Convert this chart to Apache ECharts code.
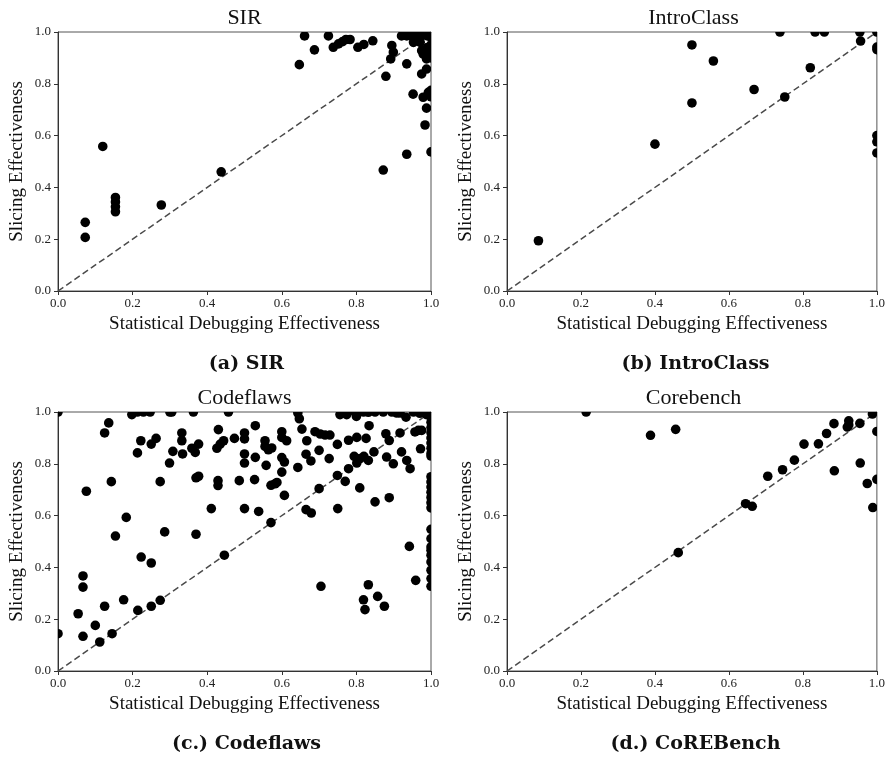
<!DOCTYPE html>
<html>
<head>
<meta charset="utf-8">
<script src="https://cdn.jsdelivr.net/npm/echarts@6/dist/echarts.min.js"></script>
<style>
html,body{margin:0;padding:0;background:#fff;}
#c{width:888px;height:761px;}
</style>
</head>
<body>
<div id="c"></div>
<script>
// ---------- data ----------
const panelTitles = ['SIR', 'IntroClass', 'Codeflaws', 'Corebench'];
const panelCaptions = ['(a) SIR', '(b) IntroClass', '(c.) Codeflaws', '(d.) CoREBench'];
const xAxisName = 'Statistical Debugging Effectiveness';
const yAxisName = 'Slicing Effectiveness';
const tickValues = [0, 0.2, 0.4, 0.6, 0.8, 1.0];
const tickLabels = ['0.0', '0.2', '0.4', '0.6', '0.8', '1.0'];
const diagX = [0, 1];
const diagY = [0, 1];

const sirX = [0.073,0.073,0.12,0.154,0.154,0.154,0.154,0.277,0.4375,0.647,0.661,0.6875,0.725,0.738,0.752,0.763,0.772,0.783,0.804,0.82,0.844,0.872,0.879,0.892,0.895,0.899,0.921,0.935,0.948,0.962,0.975,0.935,0.935,0.953,0.952,0.971,0.975,0.979,0.975,0.988,0.988,0.979,0.993,0.988,0.984,1.0,1.0,1.0,1.0,1.0,1.0,1.0,0.99,0.99];
const sirY = [0.265,0.207,0.558,0.361,0.344,0.325,0.306,0.332,0.46,0.874,0.985,0.931,0.985,0.941,0.954,0.963,0.971,0.971,0.941,0.952,0.966,0.467,0.829,0.896,0.948,0.922,0.985,0.985,0.985,0.985,0.985,0.877,0.528,0.96,0.76,0.96,0.928,0.915,0.838,0.896,0.857,0.748,0.767,0.706,0.641,0.537,0.98,0.95,0.92,0.9,0.775,0.75,0.94,0.985];

const introX = [0.085,0.40,0.50,0.50,0.558,0.668,0.738,0.751,0.82,0.833,0.858,0.954,0.956,1.0,1.0,1.0,1.0,1.0,1.0];
const introY = [0.194,0.567,0.95,0.726,0.888,0.778,1.0,0.749,0.862,1.0,1.0,1.0,0.965,1.0,0.942,0.932,0.6,0.576,0.533];

const codeX = [
  0.0,0.198,0.213,0.229,0.247,0.30,0.305,0.363,0.457,0.643,0.647,0.756,0.774,0.796,0.80,0.819,0.832,0.85,0.872,0.895,0.908,0.917,0.933,0.953,0.97,0.988,
  0.136,0.125,0.222,0.213,0.263,0.25,0.332,0.332,0.308,0.299,0.334,0.359,0.368,0.377,0.43,0.426,0.435,0.444,0.473,0.5,0.5,0.5,0.5,0.529,0.529,0.555,0.555,0.564,0.573,0.558,0.6,0.6,0.613,0.6,0.607,0.6,0.654,0.667,0.643,0.665,0.678,0.689,0.703,0.716,0.729,0.7,0.727,0.749,0.779,0.801,0.826,0.834,0.794,0.801,0.81,0.82,0.832,0.847,0.779,0.879,0.888,0.917,0.881,0.899,0.921,0.935,0.944,0.972,0.957,0.966,0.975,0.749,
  0.143,0.076,0.274,0.37,0.377,0.183,0.429,0.429,0.486,0.527,0.411,0.5,0.538,0.571,0.582,0.587,0.607,0.571,0.665,0.679,0.7,0.75,0.77,0.809,0.85,0.888,0.154,0.286,0.37,0.446,
  0.942,0.959,0.705,0.819,0.823,0.832,0.857,0.875,0.223,0.25,0.067,0.067,0.054,0.125,0.176,0.214,0.25,0.274,0.1,0.067,0.112,0.145,0.0,
  1.0,1.0,1.0,1.0,1.0,1.0,1.0,1.0,1.0,1.0,1.0,1.0,1.0,1.0,1.0,1.0,1.0,1.0,1.0,1.0,1.0,1.0,1.0,1.0,1.0,1.0
];
const codeY = [
  1.0,0.99,1.0,1.0,1.0,1.0,1.0,1.0,1.0,0.996,0.974,0.99,0.99,1.0,0.983,1.0,0.999,1.0,1.0,1.0,0.996,0.996,0.98,1.0,0.995,0.99,
  0.958,0.919,0.889,0.842,0.898,0.876,0.919,0.889,0.848,0.803,0.838,0.86,0.844,0.876,0.932,0.86,0.876,0.889,0.898,0.919,0.896,0.838,0.803,0.947,0.825,0.889,0.867,0.854,0.861,0.794,0.924,0.902,0.889,0.824,0.807,0.768,0.934,0.889,0.786,0.837,0.811,0.924,0.915,0.911,0.911,0.852,0.82,0.875,0.891,0.902,0.898,0.947,0.829,0.803,0.82,0.829,0.813,0.846,0.781,0.916,0.89,0.919,0.826,0.8,0.846,0.813,0.781,0.858,0.923,0.929,0.929,0.755,
  0.731,0.694,0.731,0.746,0.752,0.593,0.735,0.716,0.735,0.739,0.627,0.627,0.616,0.717,0.723,0.728,0.678,0.573,0.623,0.61,0.704,0.627,0.732,0.707,0.653,0.669,0.521,0.537,0.528,0.447,
  0.481,0.35,0.327,0.275,0.237,0.333,0.288,0.25,0.44,0.417,0.367,0.324,0.221,0.25,0.275,0.234,0.25,0.273,0.176,0.134,0.112,0.144,0.144,
  1.0,0.98,0.96,0.94,0.92,0.9,0.88,0.86,0.84,0.83,0.75,0.73,0.71,0.69,0.67,0.65,0.63,0.547,0.511,0.479,0.466,0.447,0.421,0.389,0.357,0.327
];

const coreX = [0.214,0.388,0.456,0.463,0.645,0.663,0.705,0.745,0.777,0.803,0.842,0.864,0.884,0.885,0.92,0.924,0.924,0.954,0.955,0.974,0.988,0.989,1.0,1.0];
const coreY = [1.0,0.91,0.933,0.457,0.646,0.636,0.752,0.777,0.814,0.876,0.877,0.917,0.955,0.773,0.942,0.966,0.95,0.956,0.803,0.724,0.992,0.631,0.925,0.74];

// ---------- layout ----------
const grids = [
  {left: 58, top: 32, width: 373, height: 259},
  {left: 507, top: 32, width: 373, height: 259},
  {left: 58, top: 412, width: 373, height: 259},
  {left: 507, top: 412, width: 373, height: 259}
];
const allX = [sirX, introX, codeX, coreX];
const allY = [sirY, introY, codeY, coreY];
const zip = (xs, ys) => xs.map((x, i) => [x, ys[i]]);

const serif = 'Liberation Serif';
const lineCol = '#333';
const dotR = 4.8;
const fmt = v => { const i = tickValues.findIndex(t => Math.abs(t - v) < 1e-6); return i >= 0 ? tickLabels[i] : ''; };

function renderDot(params, api) {
  const p = api.coord([api.value(0), api.value(1)]);
  return {type: 'circle', shape: {cx: p[0], cy: p[1], r: dotR}, style: {fill: '#000'}};
}

const option = {
  animation: false,
  backgroundColor: '#fff',
  grid: grids.map(g => Object.assign({show: true, borderColor: '#555', borderWidth: 1, backgroundColor: 'transparent', containLabel: false}, g)),
  xAxis: grids.map((g, i) => ({
    gridIndex: i, type: 'value', min: 0, max: 1, interval: 0.2,
    name: xAxisName, nameLocation: 'middle', nameGap: 24,
    nameTextStyle: {fontFamily: serif, fontSize: 19, color: '#111'},
    axisLine: {show: true, onZero: false, lineStyle: {color: lineCol, width: 1}},
    axisTick: {show: true, length: 4, lineStyle: {color: lineCol}},
    axisLabel: {fontFamily: serif, fontSize: 13, color: '#222', margin: 6, formatter: fmt},
    splitLine: {show: false}
  })),
  yAxis: grids.map((g, i) => ({
    gridIndex: i, type: 'value', min: 0, max: 1, interval: 0.2,
    name: yAxisName, nameLocation: 'middle', nameGap: 31, nameRotate: 90,
    nameTextStyle: {fontFamily: serif, fontSize: 19, color: '#111'},
    axisLine: {show: true, onZero: false, lineStyle: {color: lineCol, width: 1}},
    axisTick: {show: true, length: 4, lineStyle: {color: lineCol}},
    axisLabel: {fontFamily: serif, fontSize: 13, color: '#222', margin: 7, formatter: fmt},
    splitLine: {show: false}
  })),
  series: [].concat(
    grids.map((g, i) => ({
      type: 'line', xAxisIndex: i, yAxisIndex: i, data: zip(diagX, diagY),
      symbol: 'none', silent: true, z: 2, clip: true,
      lineStyle: {color: '#4a4a4a', width: 1.5, type: [6.5, 3.5]}
    })),
    grids.map((g, i) => ({
      type: 'custom', xAxisIndex: i, yAxisIndex: i, data: zip(allX[i], allY[i]),
      renderItem: renderDot, clip: true, z: 3, silent: true,
      encode: {x: 0, y: 1}
    }))
  ),
  graphic: [].concat(
    grids.map((g, i) => ({
      type: 'text', x: g.left + g.width / 2, y: g.top - 13.5,
      style: {text: panelTitles[i], font: '22px "' + serif + '"', fill: '#111', align: 'center', verticalAlign: 'middle'}
    })),
    grids.map((g, i) => ({
      type: 'text', x: g.left + g.width / 2 + 2, y: g.top + 332,
      style: {text: panelCaptions[i], font: 'bold 19px "DejaVu Serif"', fill: '#111', align: 'center', verticalAlign: 'middle'}
    }))
  )
};

const chart = echarts.init(document.getElementById('c'), null, {renderer: 'canvas'});
chart.setOption(option);
</script>
</body>
</html>
